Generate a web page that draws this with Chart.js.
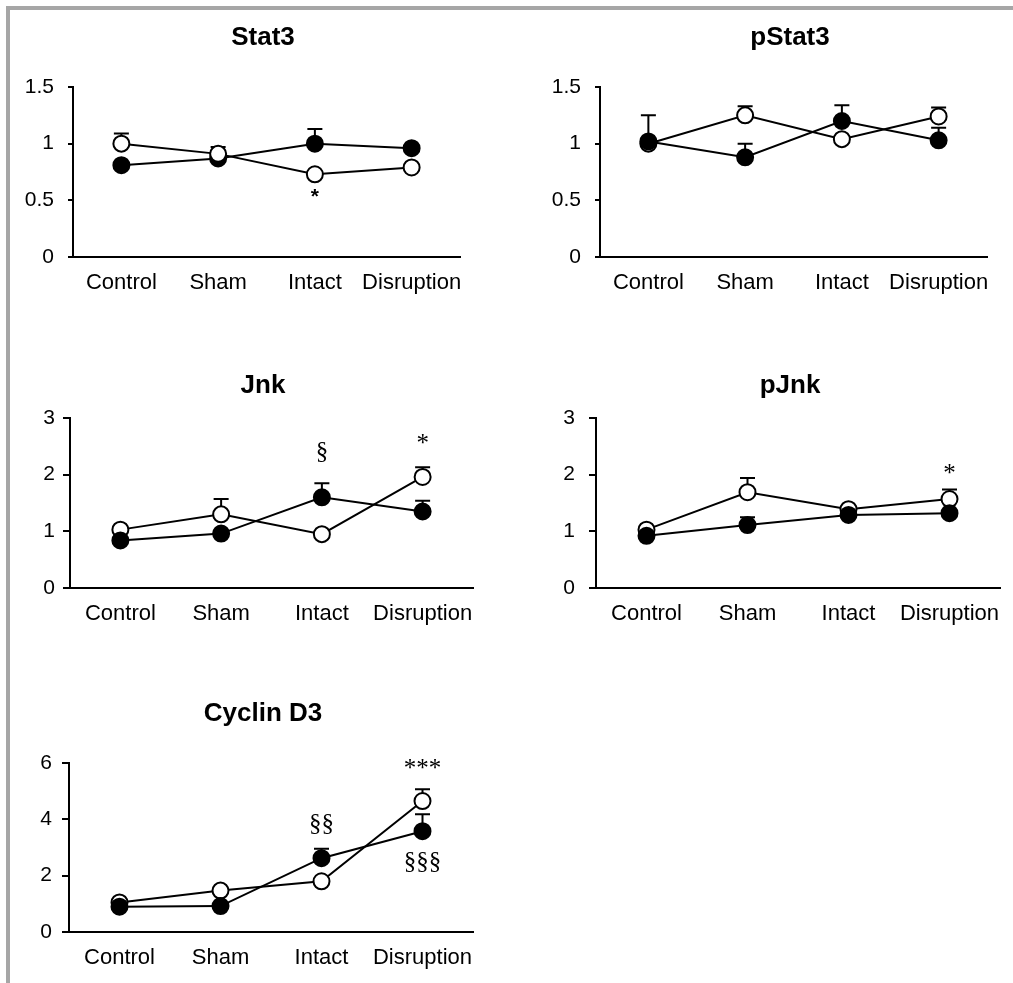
<!DOCTYPE html>
<html><head><meta charset="utf-8">
<script src="https://cdn.jsdelivr.net/npm/chart.js@4.4.1/dist/chart.umd.min.js"></script>
<style>
html,body{margin:0;padding:0;background:#fff;overflow:hidden;width:1013px;height:983px;position:relative;}
#frame{position:absolute;left:6px;top:6px;width:1100px;height:1100px;border-top:4px solid #a6a6a6;border-left:4px solid #a6a6a6;}
canvas{position:absolute;}
</style></head><body>
<div id="frame"></div>
<canvas id="c0"></canvas><canvas id="c1"></canvas><canvas id="c2"></canvas><canvas id="c3"></canvas><canvas id="c4"></canvas>
<script>
// ---------- DATA ----------
const categories = ['Control', 'Sham', 'Intact', 'Disruption'];

const stat3Ticks = [0, 0.5, 1, 1.5];
const stat3Filled = [0.81, 0.87, 1.00, 0.96];
const stat3FilledErr = [0, 0, 0.13, 0];
const stat3Open = [1.00, 0.91, 0.73, 0.79];
const stat3OpenErr = [0.09, 0.06, 0, 0];
const stat3Marks = [{cat: 'Intact', y: 0.53, text: '*', serif: false}];

const pstat3Ticks = [0, 0.5, 1, 1.5];
const pstat3Filled = [1.02, 0.88, 1.20, 1.03];
const pstat3FilledErr = [0.23, 0.12, 0.14, 0.11];
const pstat3Open = [1.00, 1.25, 1.04, 1.24];
const pstat3OpenErr = [0, 0.08, 0, 0.08];
const pstat3Marks = [];

const jnkTicks = [0, 1, 2, 3];
const jnkFilled = [0.84, 0.96, 1.60, 1.35];
const jnkFilledErr = [0, 0, 0.25, 0.19];
const jnkOpen = [1.03, 1.30, 0.95, 1.96];
const jnkOpenErr = [0, 0.27, 0, 0.17];
const jnkMarks = [{cat: 'Intact', y: 2.39, text: '§', serif: true}, {cat: 'Disruption', y: 2.62, text: '*', serif: true}];

const pjnkTicks = [0, 1, 2, 3];
const pjnkFilled = [0.92, 1.11, 1.29, 1.32];
const pjnkFilledErr = [0, 0.14, 0, 0];
const pjnkOpen = [1.03, 1.69, 1.39, 1.57];
const pjnkOpenErr = [0, 0.25, 0, 0.17];
const pjnkMarks = [{cat: 'Disruption', y: 2.09, text: '*', serif: true}];

const cycTicks = [0, 2, 4, 6];
const cycFilled = [0.90, 0.92, 2.62, 3.58];
const cycFilledErr = [0, 0, 0.34, 0.60];
const cycOpen = [1.05, 1.47, 1.80, 4.65];
const cycOpenErr = [0, 0, 0, 0.42];
const cycMarks = [{cat: 'Intact', y: 3.81, text: '§§', serif: true}, {cat: 'Disruption', y: 5.94, text: '***', serif: true}, {cat: 'Disruption', y: 2.47, text: '§§§', serif: true}];

// ---------- LAYOUT / STYLE ----------
const SANS = "'Liberation Sans', Arial, sans-serif";
const SERIF = "'Liberation Serif', 'Times New Roman', serif";
Chart.defaults.font.family = SANS;
Chart.defaults.color = '#000';

const panels = [
  {id: 'c0', title: 'Stat3', ticks: stat3Ticks, filled: stat3Filled, filledErr: stat3FilledErr, open: stat3Open, openErr: stat3OpenErr, marks: stat3Marks, openOnTop: true,
   cx: 0, cy: 0, cw: 526, ch: 320, L: 73, R: 460, T: 87, B: 257, tick: 5, ypad: 14, tx: 263, ty: 37},
  {id: 'c1', title: 'pStat3', ticks: pstat3Ticks, filled: pstat3Filled, filledErr: pstat3FilledErr, open: pstat3Open, openErr: pstat3OpenErr, marks: pstat3Marks, openOnTop: false,
   cx: 527, cy: 0, cw: 526, ch: 320, L: 600, R: 987, T: 87, B: 257, tick: 5, ypad: 14, tx: 790, ty: 37},
  {id: 'c2', title: 'Jnk', ticks: jnkTicks, filled: jnkFilled, filledErr: jnkFilledErr, open: jnkOpen, openErr: jnkOpenErr, marks: jnkMarks, openOnTop: false,
   cx: 0, cy: 340, cw: 526, ch: 300, L: 70, R: 473, T: 418, B: 588, tick: 7, ypad: 8, tx: 263, ty: 385},
  {id: 'c3', title: 'pJnk', ticks: pjnkTicks, filled: pjnkFilled, filledErr: pjnkFilledErr, open: pjnkOpen, openErr: pjnkOpenErr, marks: pjnkMarks, openOnTop: false,
   cx: 527, cy: 340, cw: 526, ch: 300, L: 596, R: 1000, T: 418, B: 588, tick: 7, ypad: 14, tx: 790, ty: 385},
  {id: 'c4', title: 'Cyclin D3', ticks: cycTicks, filled: cycFilled, filledErr: cycFilledErr, open: cycOpen, openErr: cycOpenErr, marks: cycMarks, openOnTop: false,
   cx: 0, cy: 670, cw: 526, ch: 313, L: 69, R: 473, T: 763, B: 932, tick: 7, ypad: 10, tx: 263, ty: 713}
];

const errorBarPlugin = {
  id: 'errorBars',
  beforeDatasetDraw(chart, args) {
    const ds = chart.data.datasets[args.index];
    if (!ds.errors) return;
    const ctx = chart.ctx, xs = chart.scales.x, ys = chart.scales.y;
    ctx.save();
    ctx.strokeStyle = '#000';
    ctx.lineWidth = 2;
    ds.data.forEach((v, i) => {
      const e = ds.errors[i];
      if (!e) return;
      const px = xs.getPixelForValue(i);
      const p0 = ys.getPixelForValue(v);
      const p1 = ys.getPixelForValue(v + e);
      ctx.beginPath();
      ctx.moveTo(px, p0); ctx.lineTo(px, p1);
      ctx.moveTo(px - 7.5, p1); ctx.lineTo(px + 7.5, p1);
      ctx.stroke();
    });
    ctx.restore();
  }
};

const marksPlugin = {
  id: 'marks',
  afterDatasetsDraw(chart, args, opts) {
    const ctx = chart.ctx, xs = chart.scales.x, ys = chart.scales.y;
    ctx.save();
    ctx.fillStyle = '#000';
    ctx.textAlign = 'center';
    ctx.textBaseline = 'middle';
    (opts.items || []).forEach(m => {
      ctx.font = m.serif ? ('25px ' + SERIF) : ('bold 21px ' + SANS);
      const px = xs.getPixelForValue(categories.indexOf(m.cat));
      const py = ys.getPixelForValue(m.y) + (m.serif && m.text.indexOf('*') >= 0 ? 5 : 0);
      ctx.fillText(m.text, px, py);
    });
    ctx.restore();
  }
};

const titlePlugin = {
  id: 'panelTitle',
  afterDraw(chart, args, opts) {
    const ctx = chart.ctx;
    ctx.save();
    ctx.fillStyle = '#000';
    ctx.font = 'bold 26px ' + SANS;
    ctx.textAlign = 'center';
    ctx.textBaseline = 'middle';
    ctx.fillText(opts.text, opts.x, opts.y + 1);
    ctx.restore();
  }
};

panels.forEach(p => {
  const cv = document.getElementById(p.id);
  cv.width = p.cw; cv.height = p.ch;
  cv.style.left = p.cx + 'px'; cv.style.top = p.cy + 'px';
  cv.style.width = p.cw + 'px'; cv.style.height = p.ch + 'px';
  const yW = p.L - p.cx;
  const xH = 45;
  const pad = {left: 0, right: p.cx + p.cw - p.R, top: p.T - p.cy, bottom: p.ch - (p.B - p.cy) - xH};
  const mk = (data, errs, fillCol, ord) => ({
    data: data, errors: errs, borderColor: '#000', borderWidth: 2, tension: 0, fill: false,
    pointRadius: 8, pointHoverRadius: 8, pointBorderWidth: 2, pointHoverBorderWidth: 2,
    pointBackgroundColor: fillCol, pointBorderColor: '#000', order: ord
  });
  new Chart(cv, {
    type: 'line',
    data: {
      labels: categories,
      datasets: [
        mk(p.filled, p.filledErr, '#000', p.openOnTop ? 1 : 0),
        mk(p.open, p.openErr, '#fff', p.openOnTop ? 0 : 1)
      ]
    },
    options: {
      responsive: false, animation: false, devicePixelRatio: 1,
      layout: {padding: pad},
      plugins: {
        legend: {display: false}, tooltip: {enabled: false}, title: {display: false},
        marks: {items: p.marks},
        panelTitle: {text: p.title, x: p.tx - p.cx, y: p.ty - p.cy}
      },
      scales: {
        x: {
          offset: true,
          grid: {display: false, drawTicks: false},
          border: {display: true, color: '#000', width: 2},
          ticks: {font: {size: 22}, color: '#000', padding: 13, maxRotation: 0, autoSkip: false},
          afterFit: s => { s.height = xH; s.paddingLeft = 0; s.paddingRight = 0; }
        },
        y: {
          min: p.ticks[0], max: p.ticks[p.ticks.length - 1],
          grid: {display: true, drawOnChartArea: false, drawTicks: true, tickLength: p.tick, color: '#000', lineWidth: 2},
          border: {display: true, color: '#000', width: 2},
          ticks: {stepSize: p.ticks[1] - p.ticks[0], font: {size: 21}, color: '#000', padding: p.ypad, callback: v => String(v)},
          afterFit: s => { s.width = yW; s.paddingTop = 0; s.paddingBottom = 0; }
        }
      }
    },
    plugins: [errorBarPlugin, marksPlugin, titlePlugin]
  });
});
</script>
</body></html>
